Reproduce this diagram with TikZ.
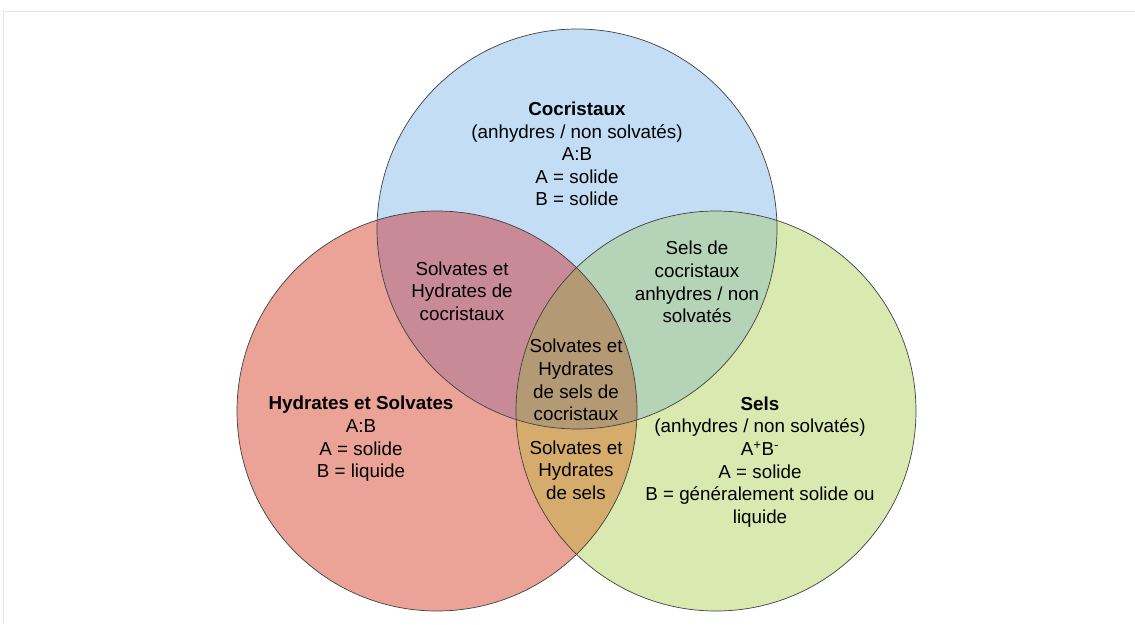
\documentclass[tikz,border=0pt]{standalone}
\usepackage{fontspec}
\setmainfont{Liberation Sans}
\usetikzlibrary{positioning}
\definecolor{redH}{HTML}{EAA396}
\definecolor{blueC}{HTML}{C2DDF4}
\definecolor{greenS}{HTML}{DAE9B0}
\definecolor{mauveHC}{HTML}{C98A97}
\definecolor{sageCS}{HTML}{B5D3B6}
\definecolor{tanHS}{HTML}{D5AC6C}
\definecolor{brownHCS}{HTML}{B39A74}
\begin{document}
\begin{tikzpicture}[x=1pt,y=-1pt,
  lbl/.style={align=center,inner sep=0pt,font=\fontsize{18.8}{22.6}\selectfont},
  rim/.style={draw=black!75,line width=0.7pt}]
\useasboundingbox (0,0) rectangle (1135,624);
\draw[black!10] (3,624) -- (3,11) -- (1135,11);
\coordinate (cH) at (437,411);
\coordinate (cC) at (577,229);
\coordinate (cS) at (716,411);
% base discs, then the overlaps
\fill[redH] (cH) circle (200pt);
\fill[blueC] (cC) circle (200pt);
\fill[greenS] (cS) circle (200pt);
\begin{scope}
  \clip (cH) circle (200pt);
  \fill[mauveHC] (cC) circle (200pt);
  \fill[tanHS] (cS) circle (200pt);
\end{scope}
\begin{scope}
  \clip (cC) circle (200pt);
  \fill[sageCS] (cS) circle (200pt);
  \clip (cH) circle (200pt);
  \fill[brownHCS] (cS) circle (200pt);
\end{scope}
\foreach \cc in {cH,cC,cS}
  {\draw[rim] (\cc) circle (200pt);}
\node[lbl] (cocr) at (577,154) {\textbf{Cocristaux}\\(anhydres / non solvatés)\\A:B\\A = solide\\B = solide};
\node[lbl] (hydr) at (361,439) {\textbf{Hydrates et Solvates}\\A:B\\A = solide\\B = liquide};
\node[lbl] (sels) at (760,462) {\textbf{Sels}\\(anhydres / non solvatés)\\A\textsuperscript{+}B\textsuperscript{-}\\A = solide\\B = généralement solide ou\\liquide};
\node[lbl] (hydcocr) at (462,291) {Solvates et\\Hydrates de\\cocristaux};
\node[lbl] (selcocr) at (697,282) {Sels de\\cocristaux\\anhydres / non\\solvatés};
\node[lbl] (hydsel) at (576,470) {Solvates et\\Hydrates\\de sels};
\node[lbl] (tous) at (576,380) {Solvates et\\Hydrates\\de sels de\\cocristaux};
\end{tikzpicture}
\end{document}
